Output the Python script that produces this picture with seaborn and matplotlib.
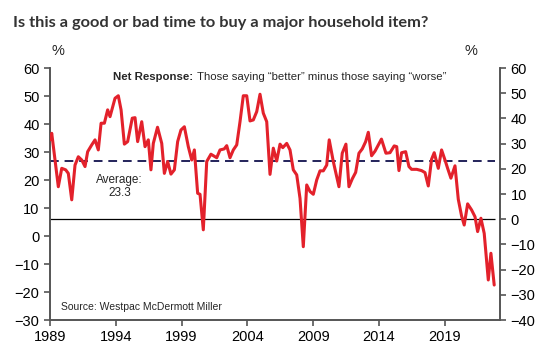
import matplotlib
matplotlib.use("Agg")
import matplotlib.pyplot as plt
import seaborn as sns
import pandas as pd

# ---- data ----
years = [1989.00, 1989.13, 1989.63, 1989.89, 1990.19, 1990.39, 1990.65, 1990.90,
         1991.15, 1991.41, 1991.66, 1991.86, 1992.17, 1992.42, 1992.67, 1992.88,
         1993.13, 1993.38, 1993.56, 1993.94, 1994.19, 1994.40, 1994.65, 1994.90,
         1995.25, 1995.46, 1995.66, 1995.97, 1996.22, 1996.47, 1996.67, 1996.85,
         1997.17, 1997.49, 1997.69, 1997.94, 1998.19, 1998.45, 1998.70, 1998.95,
         1999.21, 1999.51, 1999.77, 1999.97, 2000.22, 2000.40, 2000.65, 2000.91,
         2001.23, 2001.67, 2001.92, 2002.24, 2002.43, 2002.68, 2002.93, 2003.19,
         2003.44, 2003.69, 2003.95, 2004.20, 2004.45, 2004.71, 2004.96, 2005.21,
         2005.47, 2005.72, 2005.97, 2006.23, 2006.48, 2006.69, 2006.99, 2007.24,
         2007.49, 2007.75, 2008.00, 2008.25, 2008.51, 2008.76, 2009.01, 2009.27,
         2009.52, 2009.77, 2010.03, 2010.22, 2010.53, 2010.96, 2011.21, 2011.49,
         2011.72, 2011.97, 2012.23, 2012.48, 2012.73, 2012.99, 2013.19, 2013.44,
         2013.70, 2014.19, 2014.53, 2014.84, 2015.16, 2015.35, 2015.52, 2015.72,
         2016.03, 2016.28, 2016.48, 2016.87, 2017.24, 2017.50, 2017.75, 2018.00,
         2018.20, 2018.51, 2018.76, 2019.02, 2019.22, 2019.47, 2019.78, 2020.03,
         2020.28, 2020.48, 2020.74, 2021.04, 2021.30, 2021.50, 2021.75, 2022.00,
         2022.31, 2022.51, 2022.76]
net_response = [31.5, 34.1, 12.9, 20.2, 19.6, 18.2, 7.7, 21.5,
                24.8, 23.5, 20.9, 26.8, 29.5, 31.5, 27.5, 38.1,
                38.1, 43.4, 40.7, 48.0, 49.0, 43.4, 29.8, 30.8,
                40.1, 40.3, 30.8, 38.7, 28.8, 31.5, 19.6, 30.1,
                36.5, 30.1, 18.2, 22.9, 17.9, 19.6, 30.8, 35.4,
                36.7, 28.8, 23.5, 27.5, 10.3, 9.9, -4.2, 22.9,
                25.8, 24.4, 27.5, 27.9, 29.2, 24.4, 27.5, 29.5,
                38.7, 49.0, 49.0, 39.0, 39.4, 42.7, 49.6, 42.1,
                38.7, 17.8, 28.2, 23.1, 29.8, 28.4, 30.1, 27.5,
                19.6, 17.6, 8.3, -10.9, 13.6, 11.0, 9.9, 15.6,
                19.2, 19.2, 21.5, 31.5, 22.9, 12.9, 26.2, 29.8,
                12.9, 16.0, 18.6, 26.2, 27.9, 30.8, 34.5, 25.2,
                27.0, 31.8, 26.2, 26.4, 29.1, 28.8, 19.3, 26.4,
                26.8, 20.9, 19.8, 19.8, 19.3, 18.5, 13.2, 23.8,
                26.4, 20.2, 27.5, 23.5, 20.2, 16.3, 21.2, 7.9,
                1.3, -2.3, 6.1, 3.7, 1.0, -4.9, 0.4, -5.6,
                -24.1, -13.5, -26.1]
average = 23.3
x_ticks = [1989, 1994, 1999, 2004, 2009, 2014, 2019]
left_ticks = [-30, -20, -10, 0, 10, 20, 30, 40, 50, 60]
right_ticks = [-40, -30, -20, -10, 0, 10, 20, 30, 40, 50, 60]

df = pd.DataFrame({"year": years, "net": net_response})

sns.set_style("ticks")
plt.rcParams["font.family"] = ["Liberation Sans", "DejaVu Sans"]

fig = plt.figure(figsize=(5.42, 3.58), dpi=100)
ax = fig.add_axes([0.0923, 0.106, 0.8302, 0.704])
ax2 = ax.twinx()

spine_col = "#555555"
for a in (ax, ax2):
    a.spines["top"].set_visible(False)
    for s in ("left", "right", "bottom"):
        a.spines[s].set_color(spine_col)
        a.spines[s].set_linewidth(1.2)
    a.tick_params(colors=spine_col, labelcolor="black", labelsize=10.5, width=1.2, length=4)

ax.set_xlim(1989, 2023.2)
ax.set_ylim(-30, 60)
ax.set_yticks(left_ticks)
ax.set_xticks(x_ticks)
ax.set_xticklabels([str(t) for t in x_ticks])
ax2.set_ylim(-40, 60)
ax2.set_yticks(right_ticks)

xmax_line = max(years) + 0.05
ax2.hlines(0, 1989, xmax_line, color="black", linewidth=0.9, zorder=2)
ax2.hlines(average, 1989, xmax_line, color="#22225a", linewidth=1.4,
           linestyles=(0, (4.5, 3)), zorder=2)

sns.lineplot(data=df, x="year", y="net", ax=ax2, color="#e3212b",
             linewidth=2.2, zorder=3)
ax2.set_xlabel("")
ax2.set_ylabel("")
ax.set_xlabel("")
ax.set_ylabel("")

fig.text(0.024, 0.935, "Is this a good or bad time to buy a major household item?",
         fontsize=11.8, fontweight="bold", color="#333333", family=["Lato", "DejaVu Sans"],
         va="center", ha="left")
fig.text(58 / 542, 1 - 51 / 358, "%", fontsize=10.5, ha="center", va="center")
fig.text(471 / 542, 1 - 51 / 358, "%", fontsize=10.5, ha="center", va="center")

t1 = ax.text(0.14, 0.965, "Net Response:", transform=ax.transAxes, fontsize=8.2,
             fontweight="bold", ha="left", va="center")
ax.annotate("Those saying \u201cbetter\u201d minus those saying \u201cworse\u201d",
            xy=(1, 0.5), xycoords=t1, xytext=(2.5, 0), textcoords="offset points",
            fontsize=8.2, ha="left", va="center")
ax.text(0.155, 0.53, "Average:\n23.3", transform=ax.transAxes, fontsize=8.5,
        ha="center", va="center", linespacing=1.1)
ax.text(0.024, 0.05, "Source: Westpac McDermott Miller", transform=ax.transAxes,
        fontsize=7.5, ha="left", va="center")

fig.savefig("out.png", dpi=100)
